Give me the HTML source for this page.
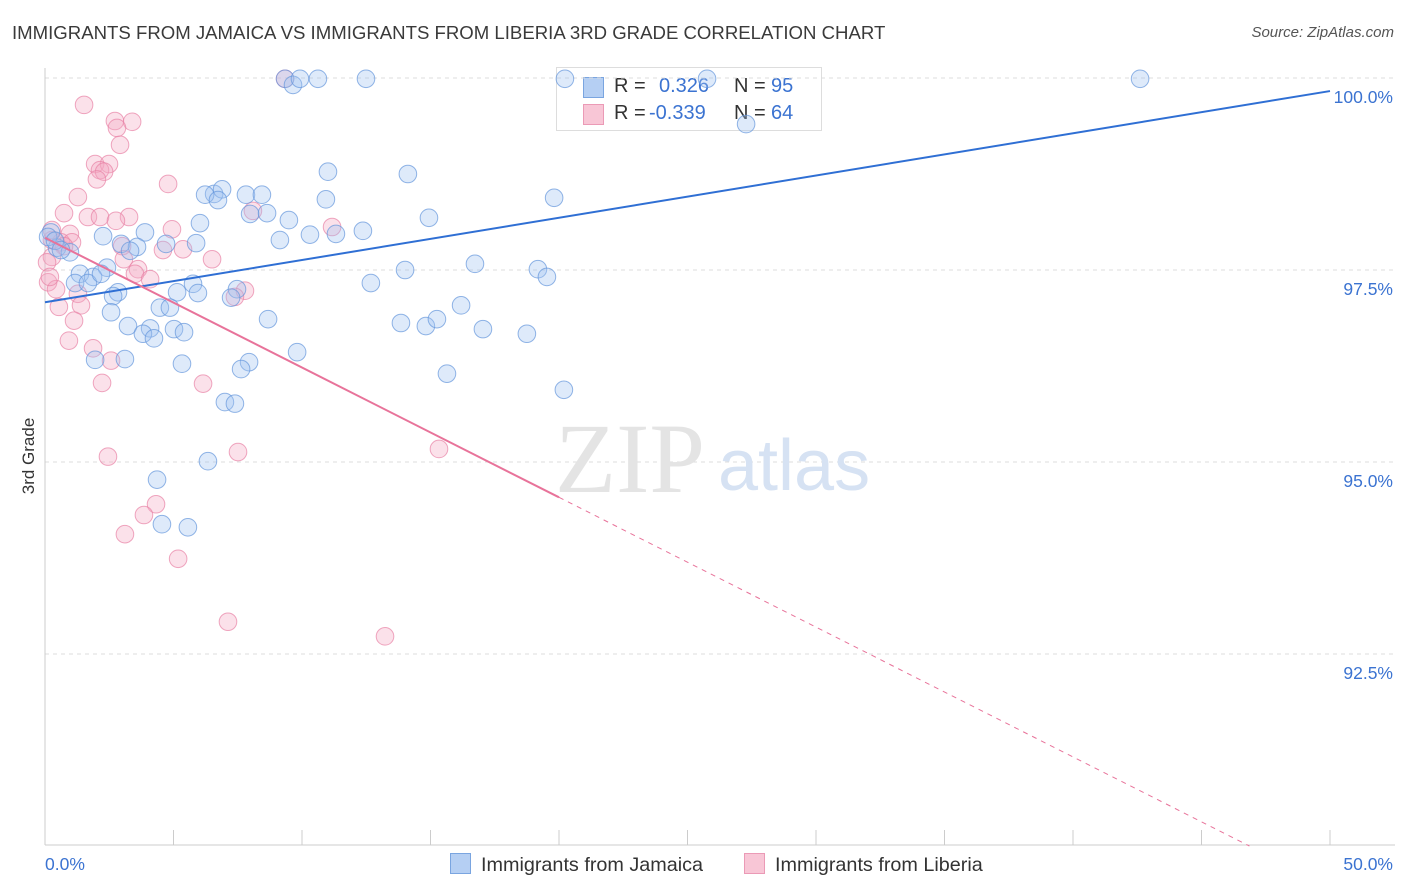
<!DOCTYPE html>
<html><head><meta charset="utf-8">
<style>
body{margin:0;background:#fff;font-family:"Liberation Sans",sans-serif;}
#wrap{position:relative;width:1406px;height:892px;overflow:hidden;}
.t{position:absolute;white-space:nowrap;}
</style></head><body>
<div id="wrap">
<div class="t" style="left:12px;top:22px;font-size:18.6px;color:#3a3a3a;">IMMIGRANTS FROM JAMAICA VS IMMIGRANTS FROM LIBERIA 3RD GRADE CORRELATION CHART</div>
<div class="t" style="right:12px;top:24px;font-size:15px;color:#555;font-style:italic;">Source: ZipAtlas.com</div>
<div class="t" style="left:556px;top:67px;width:264px;height:62px;border:1px solid #ddd;background:#fff;font-size:20px;">
 <div style="position:absolute;left:26px;top:9px;width:19px;height:19px;background:#b5cff3;border:1px solid #7aa5e0;"></div>
 <div class="t" style="left:57px;top:7px;color:#333">R = </div><div class="t" style="left:102px;top:7px;color:#3b73d1">0.326</div>
 <div class="t" style="left:177px;top:7px;color:#333">N = </div><div class="t" style="left:214px;top:7px;color:#3b73d1">95</div>
 <div style="position:absolute;left:26px;top:36px;width:19px;height:19px;background:#f8c6d6;border:1px solid #eb9ab6;"></div>
 <div class="t" style="left:57px;top:34px;color:#333">R = </div><div class="t" style="left:92px;top:34px;color:#3b73d1">-0.339</div>
 <div class="t" style="left:177px;top:34px;color:#333">N = </div><div class="t" style="left:214px;top:34px;color:#3b73d1">64</div>
</div>
<svg id="svg" width="1406" height="892" style="position:absolute;left:0;top:0"></svg>
</div>
<script>
const jamX=[9.34,9.65,9.92,10.62,12.49,20.23,25.76,42.61,27.28,11.01,14.12,6.58,6.89,6.23,6.73,7.82,8.44,10.93,19.81,7.98,8.64,9.49,6.03,14.94,0.23,2.26,3.89,10.31,11.32,12.37,9.14,5.88,2.96,3.58,4.71,0.47,0.97,3.31,16.73,19.18,19.53,14.01,2.41,1.36,1.87,1.17,1.67,2.18,12.68,5.76,7.47,5.14,5.95,2.84,2.65,7.24,4.47,4.86,16.19,2.57,8.68,13.85,14.82,15.25,17.04,18.75,3.23,4.09,3.81,5.02,5.41,4.24,9.81,1.95,3.11,5.33,7.94,7.63,15.64,20.19,7.00,7.39,6.34,4.36,4.55,5.56,0.12,0.39,0.62];
const jamY=[99.99,99.91,99.99,99.99,99.99,99.99,99.99,99.99,99.40,98.78,98.75,98.49,98.55,98.48,98.41,98.48,98.48,98.42,98.44,98.23,98.24,98.15,98.11,98.18,97.99,97.94,97.99,97.96,97.97,98.01,97.89,97.85,97.84,97.80,97.84,97.79,97.73,97.75,97.58,97.51,97.41,97.50,97.53,97.45,97.41,97.33,97.33,97.45,97.33,97.32,97.25,97.21,97.20,97.21,97.16,97.14,97.01,97.01,97.04,96.95,96.86,96.81,96.77,96.86,96.73,96.67,96.77,96.74,96.67,96.73,96.69,96.61,96.43,96.33,96.34,96.28,96.30,96.21,96.15,95.94,95.78,95.76,95.01,94.77,94.19,94.15,97.93,97.88,97.76];
const libX=[1.52,2.72,3.39,2.80,2.92,1.95,2.49,2.14,2.30,2.02,4.79,1.28,0.74,1.67,2.14,3.27,2.76,4.94,11.17,8.09,0.97,0.27,0.62,1.05,0.74,3.00,4.59,5.37,6.50,0.27,0.08,3.07,3.62,3.50,4.09,0.12,0.43,7.78,7.39,1.28,1.40,0.54,1.13,0.93,1.87,2.57,2.22,6.15,2.45,7.51,15.33,4.32,3.85,3.11,5.18,7.12,13.23,0.19,0.27,9.34];
const libY=[99.65,99.44,99.43,99.35,99.13,98.88,98.88,98.80,98.78,98.68,98.62,98.45,98.24,98.19,98.19,98.19,98.14,98.03,98.06,98.27,97.97,97.89,97.86,97.86,97.81,97.81,97.76,97.77,97.64,97.67,97.60,97.64,97.51,97.45,97.38,97.34,97.25,97.23,97.15,97.19,97.04,97.02,96.84,96.58,96.48,96.32,96.03,96.02,95.07,95.13,95.17,94.45,94.31,94.06,93.74,92.92,92.73,97.41,98.02,99.99];
const yTicks=[100,97.5,95,92.5];
const yTickLabels=["100.0%","97.5%","95.0%","92.5%"];
const jamTrend=[97.08,99.83]; // value at x=0, x=50
const libTrend=[97.92,-0.169]; // intercept, slope
const libSolidEnd=20;

const X0=45,X1=1330,Y100=78,PXV=76.8;
const sx=v=>X0+(v/50)*(X1-X0);
const sy=v=>Y100+(100-v)*PXV;
const svg=document.getElementById('svg');
const NS='http://www.w3.org/2000/svg';
function mk(tag,attrs,name){const e=document.createElementNS(NS,tag);for(const k in attrs)e.setAttribute(k,attrs[k]);


svg.appendChild(e);return e;}
yTicks.forEach((t,i)=>{
 mk('line',{x1:X0,x2:1395,y1:sy(t),y2:sy(t),stroke:'#dcdcdc','stroke-dasharray':'4,4'},'gridline');
 const tx=mk('text',{x:1393,y:sy(t)+25,'text-anchor':'end','font-size':17.5,fill:'#3b73d1','font-family':'Liberation Sans'},'y-tick-label');tx.textContent=yTickLabels[i];
});
mk('line',{x1:X0,x2:X0,y1:68,y2:845,stroke:'#ccc'},'y-axis');
mk('line',{x1:X0,x2:1395,y1:845,y2:845,stroke:'#ccc'},'x-axis');
for(let i=0;i<=10;i++){mk('line',{x1:sx(i*5),x2:sx(i*5),y1:830,y2:845,stroke:'#ccc'},'x-tick');}
const xl=mk('text',{x:45,y:870,'font-size':17.5,fill:'#3b73d1','font-family':'Liberation Sans'},'x-min-label');xl.textContent='0.0%';
const xr=mk('text',{x:1393,y:870,'text-anchor':'end','font-size':17.5,fill:'#3b73d1','font-family':'Liberation Sans'},'x-max-label');xr.textContent='50.0%';
const yt=mk('text',{x:34,y:456,'font-size':17,fill:'#333','font-family':'Liberation Sans',transform:'rotate(-90 34 456)','text-anchor':'middle'},'y-axis-title');yt.textContent='3rd Grade';
const w1=mk('text',{x:555,y:492,'font-size':100,fill:'#e4e4e4','font-family':'Liberation Serif'},'watermark-zip');w1.textContent='ZIP';
const w2=mk('text',{x:718,y:490,'font-size':72,fill:'#d6e2f3','font-family':'Liberation Sans'},'watermark-atlas');w2.textContent='atlas';
libX.forEach((x,i)=>mk('circle',{cx:sx(x),cy:sy(libY[i]),r:8.8,fill:'rgba(244,170,196,0.35)',stroke:'rgba(232,130,165,0.7)','stroke-width':1},'liberia-point'));
jamX.forEach((x,i)=>mk('circle',{cx:sx(x),cy:sy(jamY[i]),r:8.8,fill:'rgba(160,195,240,0.35)',stroke:'rgba(100,150,220,0.7)','stroke-width':1},'jamaica-point'));
mk('line',{x1:sx(0),y1:sy(jamTrend[0]),x2:sx(50),y2:sy(jamTrend[1]),stroke:'#2f6fd4','stroke-width':2},'jamaica-trend-line');
const lv=x=>libTrend[0]+libTrend[1]*x;
mk('line',{x1:sx(0),y1:sy(lv(0)),x2:sx(libSolidEnd),y2:sy(lv(libSolidEnd)),stroke:'#e8739a','stroke-width':2},'liberia-trend-line');
const xEnd=(90-libTrend[0])/libTrend[1];
mk('line',{x1:sx(libSolidEnd),y1:sy(lv(libSolidEnd)),x2:sx(xEnd),y2:sy(lv(xEnd)),stroke:'#e8739a','stroke-width':1,'stroke-dasharray':'5,5'},'liberia-trend-extension');
</script>
<div class="t" style="left:450px;top:853px;font-size:19.8px;color:#333;">
 <span style="display:inline-block;width:19px;height:19px;background:#b5cff3;border:1px solid #7aa5e0;vertical-align:-3px;margin-right:10px;"></span>Immigrants from Jamaica</div>
<div class="t" style="left:744px;top:853px;font-size:19.8px;color:#333;">
 <span style="display:inline-block;width:19px;height:19px;background:#f8c6d6;border:1px solid #eb9ab6;vertical-align:-3px;margin-right:10px;"></span>Immigrants from Liberia</div>
</body></html>
